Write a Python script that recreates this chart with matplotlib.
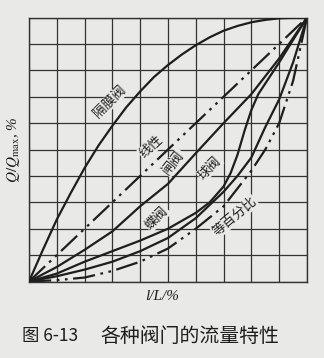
import matplotlib
matplotlib.use("Agg")
import matplotlib.pyplot as plt
import numpy as np

plt.rcParams["mathtext.fontset"] = "stix"

# opening l/L (fraction) and relative flow Q/Qmax
dia_x = [0.0, 0.05, 0.1, 0.15, 0.2, 0.25, 0.3, 0.35, 0.4, 0.45, 0.5,
         0.55, 0.6, 0.65, 0.7, 0.75, 0.8, 0.85, 0.9, 0.95, 1.0]
dia_y = [0.0, 0.12, 0.235, 0.335, 0.43, 0.515, 0.59, 0.66, 0.72, 0.775, 0.82,
         0.86, 0.895, 0.925, 0.95, 0.968, 0.982, 0.991, 0.997, 0.999, 1.0]
linear_x = [0.0, 1.0]
linear_y = [0.0, 1.0]
gate_x = [0.0, 0.1, 0.2, 0.3, 0.4, 0.5, 0.6, 0.7, 0.8, 0.9, 1.0]
gate_y = [0.0, 0.055, 0.12, 0.19, 0.285, 0.37, 0.486, 0.60, 0.71, 0.845, 1.0]

ball_x = [0.0, 0.1, 0.2, 0.3, 0.4, 0.5, 0.6, 0.65, 0.7, 0.725, 0.75, 0.775,
          0.8, 0.825, 0.85, 0.9, 0.95, 1.0]
ball_y = [0.0, 0.03, 0.075, 0.115, 0.155, 0.2, 0.26, 0.3, 0.36, 0.41, 0.48, 0.57,
          0.65, 0.71, 0.75, 0.83, 0.915, 1.0]
fly_x = [0.0, 0.1, 0.2, 0.3, 0.4, 0.5, 0.6, 0.7, 0.75, 0.8, 0.85, 0.9, 0.95, 1.0]
fly_y = [0.0, 0.02, 0.045, 0.075, 0.115, 0.165, 0.24, 0.34, 0.4, 0.47, 0.585, 0.69, 0.83, 1.0]
eq_x = [0.0, 0.1, 0.2, 0.3, 0.4, 0.5, 0.6, 0.7, 0.8, 0.85, 0.9, 0.95, 1.0]
eq_y = [0.0, 0.005, 0.015, 0.04, 0.075, 0.125, 0.2, 0.285, 0.42, 0.5, 0.6, 0.76, 1.0]

labels = ["隔膜阀", "线性", "闸阀", "球阀", "蝶阀", "等百分比"]
# label anchor (data coords) and rotation
label_pos = [(0.29, 0.68), (0.44, 0.51), (0.52, 0.45), (0.65, 0.43), (0.46, 0.24), (0.74, 0.245)]
label_rot = [45, 42, 52, 45, 45, 40]

cjk = ["Noto Sans CJK SC", "DejaVu Sans"]
paper = "#e9e9e7"
ink = "#1e1e1e"

fig = plt.figure(figsize=(3.24, 3.58), dpi=100, facecolor=paper)
ax = fig.add_axes([29 / 324, 76.5 / 358, 278 / 324, 264 / 358])
ax.set_facecolor(paper)

# grid 10 x 10
for g in np.linspace(0, 1, 11):
    ax.axvline(g, color="#333333", lw=0.9, zorder=1)
    ax.axhline(g, color="#333333", lw=0.9, zorder=1)

dashdot = (0, (10, 2.5, 1.2, 2.5, 1.2, 2.5))
ax.plot(dia_x, dia_y, color=ink, lw=1.6, zorder=3)
ax.plot(linear_x, linear_y, color=ink, lw=1.6, ls=dashdot, zorder=3)
ax.plot(gate_x, gate_y, color=ink, lw=1.6, zorder=3)
ax.plot(ball_x, ball_y, color=ink, lw=1.6, zorder=3)
ax.plot(fly_x, fly_y, color=ink, lw=1.6, zorder=3)
ax.plot(eq_x, eq_y, color=ink, lw=1.6, ls=dashdot, zorder=3)

for txt, (lx, ly), r in zip(labels, label_pos, label_rot):
    ax.text(lx, ly, txt, rotation=r, family=cjk, fontsize=9.5, color=ink,
            ha="center", va="center", rotation_mode="anchor", zorder=4,
            bbox=dict(boxstyle="square,pad=0.05", fc=paper, ec="none"))

ax.set_xlim(0, 1)
ax.set_ylim(0, 1)
ax.set_xticks([])
ax.set_yticks([])
for s in ax.spines.values():
    s.set_color("#333333")
    s.set_linewidth(1.0)

fig.text(14 / 324, 1 - 150 / 358, r"$Q/Q_{\mathrm{max}}$, %", rotation=90,
         ha="center", va="center", fontsize=11, family="Liberation Serif",
         style="italic", color=ink)
fig.text(162 / 324, 1 - 297 / 358, "l/L/%", ha="center", va="center",
         fontsize=11, family="Liberation Serif", style="italic", color=ink)
fig.text(22 / 324, 1 - 336 / 358, "图 6-13", ha="left", va="center",
         fontsize=12.5, family=cjk, color=ink)
fig.text(100 / 324, 1 - 336 / 358, "各种阀门的流量特性", ha="left", va="center",
         fontsize=14.3, family=cjk, color=ink)

fig.savefig("out.png", dpi=100, facecolor=paper)
